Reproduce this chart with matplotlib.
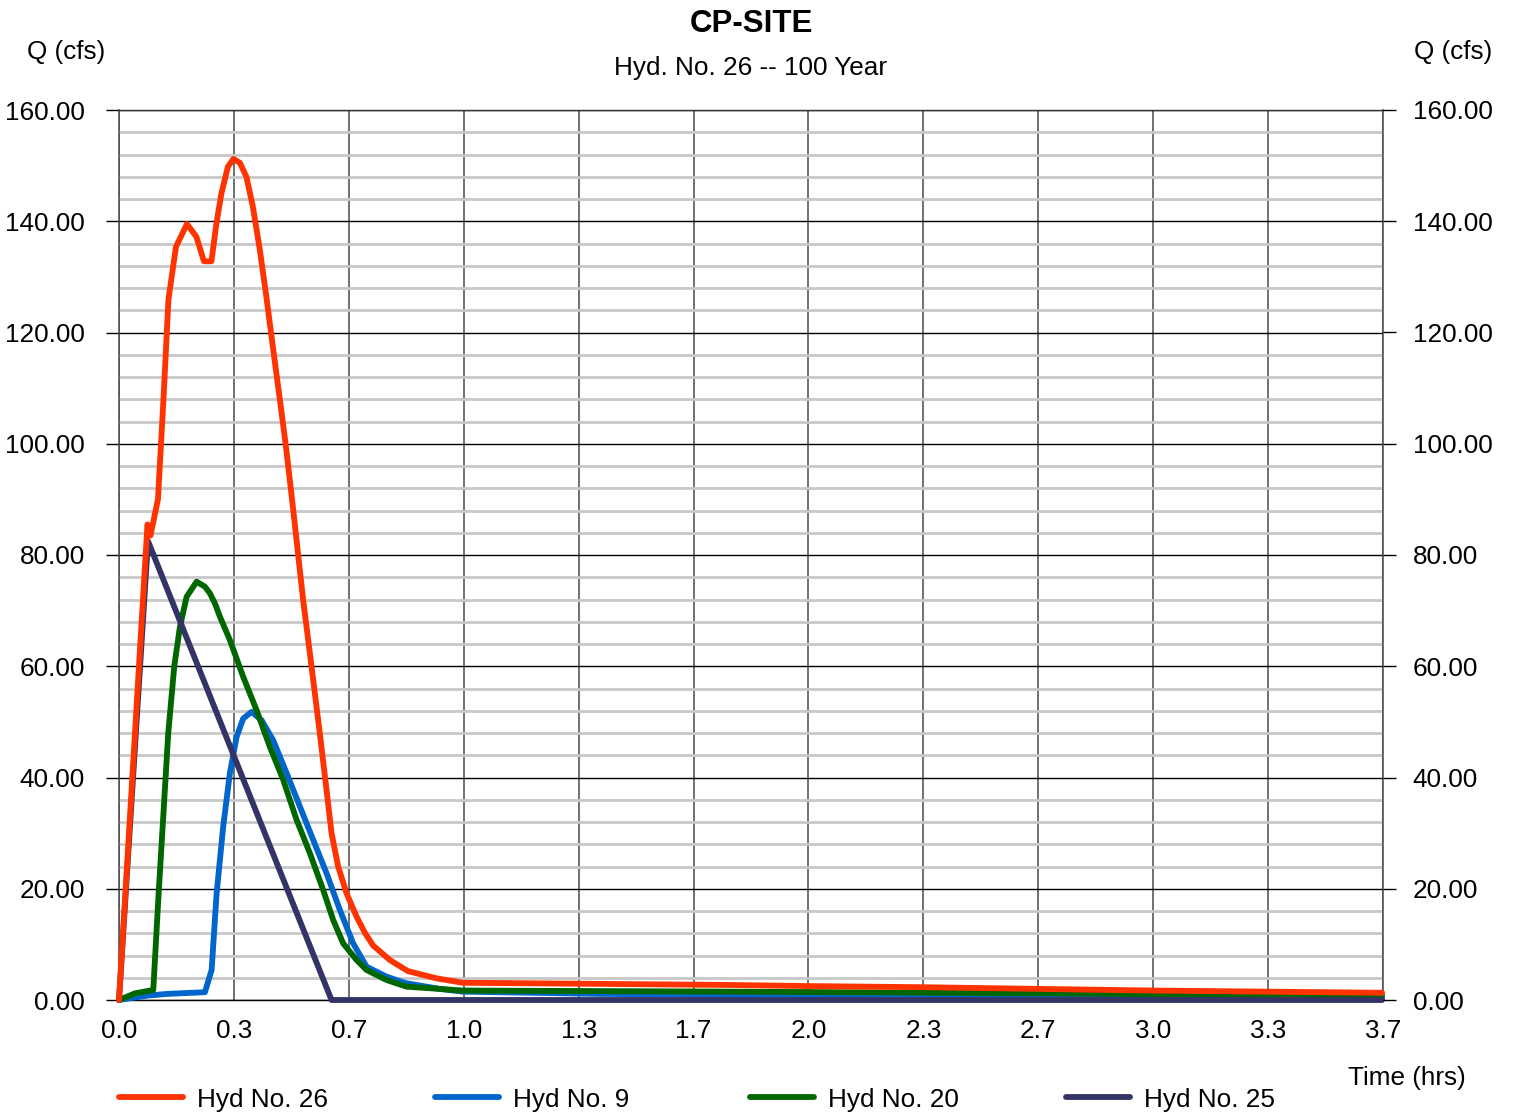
import matplotlib
matplotlib.use("Agg")
import matplotlib.pyplot as plt
from matplotlib.lines import Line2D
from matplotlib.ticker import FixedLocator, MultipleLocator, FuncFormatter

plt.rcParams["font.family"] = ["Liberation Sans", "DejaVu Sans"]

# Hydrograph ordinates: time (hrs) and discharge Q (cfs)
hyd26_t = [0.0, 0.0826, 0.0913, 0.1130, 0.1290, 0.1435, 0.1652, 0.1971, 0.2246,
           0.2464, 0.2681, 0.2826, 0.2971, 0.3159, 0.3319, 0.3507, 0.3696, 0.3884,
           0.4087, 0.4275, 0.4464, 0.4667, 0.4855, 0.5043, 0.5342, 0.5586, 0.5826,
           0.6020, 0.6165, 0.6357, 0.6600, 0.6890, 0.7140, 0.7371, 0.7855, 0.8377,
           0.9209, 0.9971, 1.394, 1.771, 2.000, 2.330, 2.664, 2.997, 3.330, 3.664]
hyd26_q = [0.0, 85.5, 83.5, 90.0, 108.0, 126.0, 135.4, 139.5, 137.2,
           132.8, 132.8, 139.6, 145.0, 149.8, 151.2, 150.5, 148.0, 142.6,
           134.8, 126.4, 117.4, 107.9, 98.9, 88.7, 71.9, 59.9, 47.9,
           37.8, 30.0, 24.0, 19.2, 15.0, 12.0, 9.8, 7.2, 5.2,
           3.9, 3.1, 2.9, 2.7, 2.5, 2.3, 2.0, 1.7, 1.5, 1.3]

hyd9_t = [0.0, 0.0400, 0.0841, 0.1400, 0.2493, 0.2687, 0.2832, 0.3023, 0.3217,
          0.3412, 0.3603, 0.3846, 0.4136, 0.4472, 0.4861, 0.5246, 0.5632, 0.6020,
          0.6406, 0.6791, 0.7180, 0.7759, 0.8339, 0.9304, 0.9971, 1.394, 1.771,
          2.664, 3.664]
hyd9_q = [0.0, 0.4, 0.8, 1.1, 1.4, 5.4, 19.2, 31.2, 40.8,
          47.3, 50.6, 51.8, 50.3, 46.7, 40.8, 34.8, 28.8, 22.8,
          16.2, 10.2, 6.0, 4.2, 3.0, 2.0, 1.5, 1.1, 0.9,
          0.7, 0.4]

hyd20_t = [0.0, 0.0464, 0.0994, 0.1139, 0.1313, 0.1429, 0.1603, 0.1768, 0.1962,
           0.2252, 0.2493, 0.2638, 0.2783, 0.2928, 0.3217, 0.3603, 0.3991, 0.4377,
           0.4762, 0.5151, 0.5536, 0.5922, 0.6212, 0.6501, 0.6890, 0.7180, 0.7759,
           0.8339, 0.9971, 1.771, 2.664, 3.664]
hyd20_q = [0.0, 1.2, 1.8, 18.0, 36.0, 48.0, 60.0, 67.1, 72.5,
           75.2, 74.3, 73.1, 71.3, 68.9, 64.7, 58.1, 52.1, 45.5,
           39.6, 32.4, 26.4, 19.8, 14.4, 10.2, 7.2, 5.4, 3.6,
           2.4, 1.7, 1.5, 1.2, 0.8]

hyd25_t = [0.0, 0.0841, 0.6165, 3.664]
hyd25_q = [0.0, 82.5, 0.0, 0.0]

series_names = ["Hyd No. 26", "Hyd No. 9", "Hyd No. 20", "Hyd No. 25"]
series_colors = ["#FF3300", "#0066CC", "#006600", "#333366"]

W, H = 1513, 1112
fig = plt.figure(figsize=(W / 100, H / 100), dpi=100)
L, R, B, T = 119 / W, 1383 / W, 1 - 1000 / H, 1 - 110 / H
ax = fig.add_axes([L, B, R - L, T - B])

x_max = 11 / 3
ax.set_xlim(0, x_max)
ax.set_ylim(0, 160)

# grid: light minor rows every 4 cfs, black major rows every 20, dark columns every 1/3 hr
ax.yaxis.set_minor_locator(MultipleLocator(4))
ax.yaxis.set_major_locator(MultipleLocator(20))
ax.xaxis.set_major_locator(FixedLocator([k / 3 for k in range(12)]))
ax.xaxis.set_major_formatter(FuncFormatter(lambda v, p: f"{v:.1f}"))
ax.yaxis.set_major_formatter(FuncFormatter(lambda v, p: f"{v:.2f}"))
ax.grid(which="minor", axis="y", color="#C8C8C8", linewidth=2.0, zorder=0)
ax.grid(which="major", axis="y", color="black", linewidth=1.0, zorder=1)
ax.grid(which="major", axis="x", color="#4A4A4A", linewidth=1.1, zorder=1)
ax.set_axisbelow(True)

for side in ["left", "right"]:
    ax.spines[side].set_color("#4A4A4A")
    ax.spines[side].set_linewidth(1.1)
ax.spines["top"].set_color("#333333")
ax.spines["bottom"].set_color("black")
ax.spines["top"].set_linewidth(1.0)
ax.spines["bottom"].set_linewidth(1.0)

fs = 18.8
ax.tick_params(axis="x", which="both", length=0, pad=14, labelsize=fs)
ax.tick_params(axis="y", which="minor", length=0)
ax.tick_params(axis="y", which="major", length=9.4, width=1.0, color="black",
               pad=15, labelsize=fs, direction="out")

ax2 = ax.twinx()
ax2.set_ylim(0, 160)
ax2.yaxis.set_major_locator(MultipleLocator(20))
ax2.yaxis.set_major_formatter(FuncFormatter(lambda v, p: f"{v:.2f}"))
ax2.tick_params(axis="y", which="major", length=9.4, width=1.0, color="black",
                pad=12, labelsize=fs, direction="out")
for s in ax2.spines.values():
    s.set_visible(False)

lw = 4.2
data = [(hyd26_t, hyd26_q), (hyd9_t, hyd9_q), (hyd20_t, hyd20_q), (hyd25_t, hyd25_q)]
z_order = [6, 3, 4, 5]
for (t, q), c, z in zip(data, series_colors, z_order):
    ax.plot(t, q, color=c, linewidth=lw, solid_joinstyle="round",
            solid_capstyle="round", zorder=z, clip_on=False)

# titles and axis captions
fig.text(751 / W, 1 - 24.5 / H, "CP-SITE", ha="center", va="center",
         fontsize=22.5, fontweight="bold")
fig.text(750 / W, 1 - 68.5 / H, "Hyd. No. 26 -- 100 Year", ha="center", va="center",
         fontsize=fs)
fig.text(66 / W, 1 - 52.5 / H, "Q (cfs)", ha="center", va="center", fontsize=fs)
fig.text(1453 / W, 1 - 52.5 / H, "Q (cfs)", ha="center", va="center", fontsize=fs)
fig.text(1407 / W, 1 - 1077.5 / H, "Time (hrs)", ha="center", va="center", fontsize=fs)

# legend row along the bottom
leg_y = 1 - 1097 / H
for i, (name, c) in enumerate(zip(series_names, series_colors)):
    x0 = 119 + i * 315.7
    fig.add_artist(Line2D([x0 / W, (x0 + 64) / W], [leg_y, leg_y], color=c,
                          linewidth=lw, solid_capstyle="round"))
    fig.text((x0 + 78) / W, 1 - 1099.5 / H, name, ha="left", va="center", fontsize=fs)

fig.savefig("out.png", dpi=100, facecolor="white")
